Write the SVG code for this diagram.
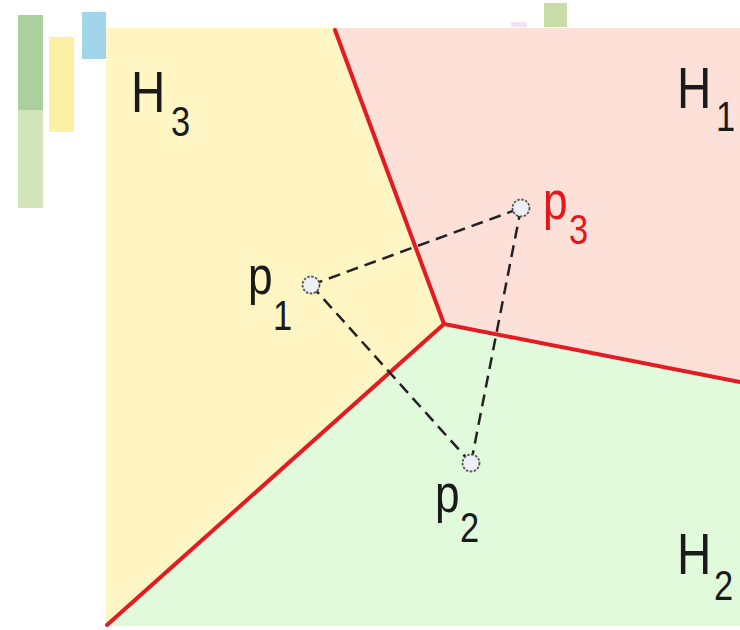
<svg xmlns="http://www.w3.org/2000/svg" width="740" height="630" viewBox="0 0 740 630">
<style>
.lbl{font-family:"Liberation Sans",Arial,sans-serif;fill:#1a1a1a}
.big{font-size:58px}
.pp{font-size:54px}
.sub{font-size:42px}
.red{fill:#e8141c}
.edge{stroke:#e31b23;stroke-width:4;fill:none;stroke-linecap:round;stroke-linejoin:round}
.dash{stroke:#222;stroke-width:2.5;stroke-dasharray:12,7;fill:none}
.pt{fill:#eef0f8;stroke:#555;stroke-width:1.8;stroke-dasharray:2.5,1.5}
</style>
<rect width="740" height="630" fill="#ffffff"/>
<g id="deco">
<rect x="18" y="15" width="25" height="95" fill="#a9d09d"/>
<rect x="18" y="110" width="25" height="98" fill="#d1e5b8"/>
<rect x="49" y="37" width="25" height="95" fill="#fcf0a2"/>
<rect x="82" y="12" width="24" height="47" fill="#a2d4ec"/>
<rect x="544" y="3" width="23" height="24" fill="#c8dca8"/>
<rect x="511" y="22" width="16" height="5" fill="#efe4f0"/>
</g>
<g id="regions">
<g id="H3region"><polygon points="106,28 335,28 444,324 107,626 106,626" fill="#fff6c3"/></g>
<g id="H1region"><polygon points="335,28 740,28 740,382 444,324" fill="#fde0d7"/></g>
<g id="H2region"><polygon points="444,324 740,382 740,626 107,626" fill="#e1fadb"/></g>
</g>
<g id="connectors">
<polyline class="edge" points="335,30 444,324 740,382"/>
<line class="edge" x1="444" y1="324" x2="107" y2="625"/>
<line class="dash" x1="311" y1="285" x2="521" y2="208"/>
<line class="dash" x1="311" y1="285" x2="471" y2="463"/>
<line class="dash" x1="521" y1="208" x2="471" y2="463"/>
</g>
<g id="p1"><circle class="pt" cx="311" cy="285" r="8.5"/><text class="lbl pp" transform="translate(248,294) scale(0.82,1)">p</text><text class="lbl sub" transform="translate(273,330) scale(0.82,1)">1</text></g>
<g id="p3"><circle class="pt" cx="521" cy="208" r="8.5"/><text class="lbl pp red" transform="translate(543,219) scale(0.82,1)">p</text><text class="lbl sub red" transform="translate(569,244) scale(0.82,1)">3</text></g>
<g id="p2"><circle class="pt" cx="471" cy="463" r="8.5"/><text class="lbl pp" transform="translate(435,512) scale(0.82,1)">p</text><text class="lbl sub" transform="translate(460,542) scale(0.82,1)">2</text></g>
<g id="H3"><text class="lbl big" transform="translate(131,112) scale(0.82,1)">H</text><text class="lbl sub" transform="translate(171,136) scale(0.82,1)">3</text></g>
<g id="H1"><text class="lbl big" transform="translate(677,108) scale(0.82,1)">H</text><text class="lbl sub" transform="translate(716,131) scale(0.82,1)">1</text></g>
<g id="H2"><text class="lbl big" transform="translate(677,574) scale(0.82,1)">H</text><text class="lbl sub" transform="translate(714,600) scale(0.82,1)">2</text></g>
</svg>
